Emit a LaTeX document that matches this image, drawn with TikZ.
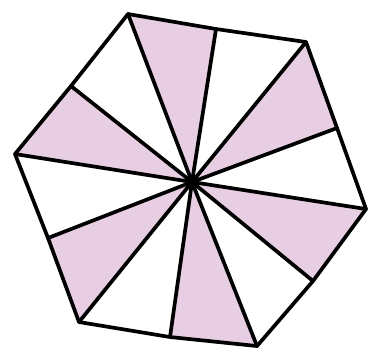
\documentclass[tikz,border=0pt]{standalone}
\definecolor{pinkfill}{RGB}{231,206,226}
\begin{document}
\begin{tikzpicture}[x=0.01cm,y=-0.01cm,
  edge/.style={line width=1.05pt,line join=round,line cap=round},
  shade/.style={fill=pinkfill,draw=none}]
\useasboundingbox (0,0) rectangle (368,347);
\coordinate (O) at (192,182);
\coordinate (V1) at (128,14);
\coordinate (M1) at (216,29);
\coordinate (V2) at (306,42);
\coordinate (M2) at (337,128);
\coordinate (V3) at (366,209);
\coordinate (M3) at (313,281);
\coordinate (V4) at (257,346);
\coordinate (M4) at (170,337);
\coordinate (V5) at (79,322);
\coordinate (M5) at (48,238);
\coordinate (V6) at (15,154);
\coordinate (M6) at (71,86);
\foreach \a/\b in {V1/M1,V2/M2,V3/M3,V4/M4,V5/M5,V6/M6}
  \fill[shade] (O) -- (\a) -- (\b) -- cycle;
\draw[edge] (V1) -- (M1) -- (V2) -- (M2) -- (V3) -- (M3) -- (V4) -- (M4) -- (V5) -- (M5) -- (V6) -- (M6) -- cycle;
\foreach \p in {V1,M1,V2,M2,V3,M3,V4,M4,V5,M5,V6,M6}
  \draw[edge] (O) -- (\p);
\fill (O) circle (6);
\end{tikzpicture}
\end{document}
